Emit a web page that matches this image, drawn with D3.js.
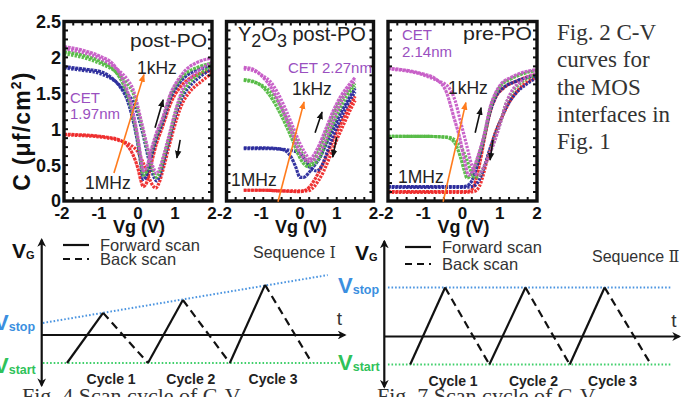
<!DOCTYPE html>
<html><head><meta charset="utf-8">
<script src="https://cdn.jsdelivr.net/npm/d3@7"></script>
<style>
html,body{margin:0;padding:0;background:#fff;overflow:hidden}
svg{display:block;font-family:Arial,"Liberation Sans",sans-serif}
</style></head><body>
<svg id="c" width="697" height="397"></svg>
<script>
// ---------------- DATA ----------------
const xTicks = [-2, -1, 0, 1, 2];
const xTickLabels = ["-2", "-1", "0", "1", "2"];
const yTicks = [0, 0.5, 1, 1.5, 2, 2.5];
const yTickLabels = ["0", "0.5", "1", "1.5", "2", "2.5"];
const panelTitles = ["post-PO", "Y2O3 post-PO", "pre-PO"];
const cetLabels = [["CET", "1.97nm"], ["CET 2.27nm"], ["CET", "2.14nm"]];
const freqLabels = ["1kHz", "1MHz"];
const seriesNames = ["1MHz", "100kHz", "10kHz", "1kHz"]; // red, blue, green, pink

// Panel 1: post-PO  (each series: branch A and branch B of hysteresis loop)
const postPO_red_A   = [[-2,0.93],[-1.5,0.92],[-1,0.9],[-0.5,0.85],[-0.3,0.78],[-0.15,0.66],[0,0.45],[0.08,0.28],[0.14,0.2],[0.22,0.24],[0.35,0.5],[0.5,0.8],[0.64,1.0],[0.9,1.38],[1.1,1.56],[1.3,1.67],[1.6,1.76],[2,1.82]];
const postPO_red_B   = [[-2,0.92],[-1.5,0.91],[-1,0.89],[-0.5,0.84],[-0.2,0.78],[0,0.68],[0.15,0.52],[0.3,0.32],[0.42,0.2],[0.48,0.18],[0.56,0.24],[0.7,0.48],[0.85,0.78],[1.05,1.15],[1.2,1.36],[1.4,1.52],[1.7,1.66],[2,1.78]];
const postPO_blue_A  = [[-2,1.87],[-1.5,1.84],[-1,1.8],[-0.7,1.71],[-0.5,1.6],[-0.3,1.42],[-0.17,1.2],[0,0.78],[0.08,0.5],[0.14,0.3],[0.22,0.34],[0.35,0.6],[0.5,0.88],[0.64,1.06],[0.9,1.46],[1.1,1.63],[1.3,1.74],[1.6,1.82],[2,1.88]];
const postPO_blue_B  = [[-2,1.85],[-1.5,1.82],[-1,1.77],[-0.6,1.66],[-0.3,1.5],[-0.13,1.38],[0.1,1.0],[0.32,0.52],[0.45,0.31],[0.5,0.28],[0.58,0.34],[0.7,0.56],[0.82,0.8],[1.05,1.25],[1.2,1.45],[1.4,1.6],[1.7,1.74],[2,1.84]];
const postPO_green_A = [[-2,2.08],[-1.5,2.03],[-1,1.94],[-0.7,1.85],[-0.5,1.72],[-0.3,1.5],[-0.17,1.27],[0,0.83],[0.08,0.55],[0.14,0.36],[0.22,0.4],[0.35,0.66],[0.5,0.92],[0.64,1.1],[0.9,1.5],[1.1,1.67],[1.3,1.78],[1.6,1.86],[2,1.92]];
const postPO_green_B = [[-2,2.05],[-1.5,2.0],[-1,1.91],[-0.6,1.8],[-0.3,1.64],[-0.13,1.5],[0.1,1.05],[0.32,0.58],[0.45,0.37],[0.5,0.33],[0.58,0.4],[0.7,0.62],[0.82,0.85],[1.05,1.3],[1.2,1.5],[1.4,1.65],[1.7,1.78],[2,1.88]];
const postPO_pink_A  = [[-2,2.15],[-1.5,2.1],[-1,2.01],[-0.7,1.92],[-0.5,1.78],[-0.3,1.55],[-0.17,1.32],[0,0.87],[0.08,0.6],[0.14,0.42],[0.22,0.45],[0.35,0.7],[0.5,0.95],[0.64,1.12],[0.9,1.52],[1.1,1.7],[1.3,1.83],[1.6,1.93],[2,1.99]];
const postPO_pink_B  = [[-2,2.12],[-1.5,2.07],[-1,1.98],[-0.6,1.85],[-0.3,1.7],[-0.13,1.55],[0.1,1.09],[0.32,0.62],[0.45,0.42],[0.5,0.38],[0.58,0.45],[0.7,0.65],[0.82,0.88],[1.05,1.32],[1.2,1.55],[1.4,1.7],[1.7,1.84],[2,1.93]];

// Panel 2: Y2O3 post-PO
const y2o3_red_A   = [[-1.53,0.15],[-1.0,0.15],[-0.5,0.14],[0.0,0.13],[0.15,0.15],[0.27,0.2],[0.4,0.3],[0.54,0.43],[0.7,0.6],[0.9,0.85],[1.1,1.07],[1.35,1.32],[1.5,1.46]];
const y2o3_red_B   = [[-1.53,0.15],[-1.0,0.15],[-0.5,0.14],[0.0,0.14],[0.2,0.14],[0.35,0.18],[0.5,0.28],[0.65,0.42],[0.8,0.6],[1.0,0.85],[1.2,1.08],[1.4,1.3],[1.5,1.4]];
const y2o3_blue_A  = [[-1.53,0.74],[-1.0,0.74],[-0.6,0.73],[-0.4,0.7],[-0.25,0.62],[-0.12,0.48],[0.0,0.33],[0.1,0.33],[0.25,0.4],[0.4,0.5],[0.54,0.6],[0.7,0.78],[0.9,1.0],[1.1,1.22],[1.3,1.4],[1.5,1.57]];
const y2o3_blue_B  = [[-1.53,0.73],[-1.0,0.73],[-0.5,0.72],[-0.2,0.7],[0.0,0.66],[0.15,0.56],[0.3,0.45],[0.45,0.42],[0.6,0.5],[0.75,0.7],[0.9,0.9],[1.1,1.14],[1.3,1.35],[1.5,1.52]];
const y2o3_green_A = [[-1.53,1.69],[-1.3,1.67],[-1.0,1.58],[-0.81,1.46],[-0.6,1.28],[-0.36,1.03],[-0.2,0.84],[-0.05,0.65],[0.1,0.52],[0.22,0.48],[0.35,0.55],[0.54,0.74],[0.7,0.95],[0.9,1.2],[1.1,1.4],[1.26,1.51],[1.5,1.64]];
const y2o3_green_B = [[-1.53,1.68],[-1.3,1.66],[-1.0,1.6],[-0.8,1.52],[-0.6,1.38],[-0.36,1.14],[-0.15,0.9],[0.0,0.72],[0.15,0.58],[0.3,0.5],[0.4,0.52],[0.55,0.62],[0.7,0.8],[0.9,1.07],[1.1,1.3],[1.3,1.48],[1.5,1.6]];
const y2o3_pink_A  = [[-1.53,1.86],[-1.3,1.84],[-1.0,1.72],[-0.81,1.6],[-0.6,1.4],[-0.36,1.13],[-0.2,0.92],[-0.05,0.72],[0.1,0.6],[0.22,0.55],[0.35,0.62],[0.54,0.8],[0.7,1.0],[0.9,1.25],[1.1,1.45],[1.26,1.57],[1.5,1.72]];
const y2o3_pink_B  = [[-1.53,1.84],[-1.3,1.82],[-1.0,1.74],[-0.8,1.66],[-0.6,1.5],[-0.36,1.24],[-0.15,0.98],[0.0,0.8],[0.15,0.66],[0.3,0.56],[0.4,0.58],[0.55,0.68],[0.7,0.85],[0.9,1.12],[1.1,1.36],[1.3,1.55],[1.5,1.68]];

// Panel 3: pre-PO
const prePO_red_A   = [[-2,0.13],[-1,0.13],[0,0.13],[0.2,0.14],[0.3,0.2],[0.4,0.38],[0.5,0.62],[0.6,0.9],[0.75,1.25],[0.9,1.45],[1.1,1.57],[1.5,1.68],[2,1.77]];
const prePO_red_B   = [[-2,0.12],[-1,0.12],[0,0.12],[0.3,0.13],[0.45,0.2],[0.55,0.35],[0.65,0.55],[0.76,0.75],[0.88,0.95],[1.02,1.12],[1.2,1.32],[1.5,1.55],[2,1.72]];
const prePO_blue_A  = [[-2,0.2],[-1,0.2],[0,0.2],[0.15,0.22],[0.25,0.28],[0.35,0.42],[0.45,0.6],[0.57,0.86],[0.75,1.26],[0.9,1.46],[1.1,1.58],[1.4,1.66],[2,1.75]];
const prePO_blue_B  = [[-2,0.19],[-1,0.19],[0,0.19],[0.25,0.2],[0.4,0.25],[0.5,0.35],[0.6,0.5],[0.72,0.7],[0.84,0.88],[1.02,1.12],[1.2,1.33],[1.4,1.48],[1.7,1.62],[2,1.72]];
const prePO_green_A = [[-2,0.9],[-1,0.9],[-0.5,0.89],[-0.3,0.86],[-0.15,0.75],[-0.06,0.62],[0.05,0.42],[0.12,0.32],[0.22,0.36],[0.4,0.58],[0.57,0.88],[0.75,1.3],[0.9,1.5],[1.02,1.6],[1.3,1.7],[1.56,1.76],[2,1.82]];
const prePO_green_B = [[-2,0.9],[-1,0.9],[-0.4,0.89],[-0.2,0.85],[-0.05,0.76],[0.1,0.6],[0.22,0.42],[0.32,0.33],[0.42,0.34],[0.55,0.45],[0.7,0.62],[0.84,0.82],[1.02,1.1],[1.15,1.33],[1.29,1.48],[1.6,1.66],[2,1.76]];
const prePO_pink_A  = [[-2,1.85],[-1.5,1.82],[-1.14,1.78],[-0.69,1.69],[-0.42,1.5],[-0.24,1.18],[-0.06,0.85],[0.06,0.55],[0.16,0.36],[0.25,0.4],[0.4,0.6],[0.57,0.9],[0.75,1.32],[0.9,1.52],[1.02,1.62],[1.3,1.72],[1.56,1.78],[2,1.83]];
const prePO_pink_B  = [[-2,1.84],[-1.5,1.81],[-1.14,1.77],[-0.69,1.68],[-0.4,1.6],[-0.2,1.4],[-0.05,1.1],[0.1,0.8],[0.25,0.5],[0.35,0.38],[0.43,0.36],[0.55,0.45],[0.7,0.62],[0.84,0.8],[1.02,1.09],[1.15,1.33],[1.29,1.5],[1.6,1.68],[2,1.78]];

// Annotation arrows in data units [V1,C1,V2,C2]
const orangeArrows = [[-0.65,0.39,0.16,1.76],[-0.6,-0.01,0.11,1.38],[-0.52,-0.01,0.09,1.37]];
const upArrows     = [[0.46,1.02,0.68,1.41],[0.41,0.95,0.6,1.24],[0.34,0.95,0.5,1.3]];
const downArrows   = [[1.14,0.85,1.05,0.6],[1.0,0.89,0.89,0.61],[0.82,0.85,0.74,0.57]];

// Scan sequences (t, V_G in arbitrary units; V_start = -1)
const seq1T = [0.84, 2.04, 3.53, 4.69, 6.25, 7.42, 8.98];
const seq1V = [-1, 0.79, -1, 1.25, -1, 1.79, -1];
const seq1Stop = [[0.04, 0.43], [9.5, 2.14]];
const seq2T = [0.86, 2.02, 3.49, 4.69, 6.16, 7.32, 8.86];
const seq2V = [-1, 1.75, -1, 1.75, -1, 1.75, -1];
const seq2Stop = [[0.12, 1.75], [9.53, 1.75]];
const cycleLabels = ["Cycle 1", "Cycle 2", "Cycle 3"];
const legendLabels = ["Forward scan", "Back scan"];
const captionLines = ["Fig. 2 C-V", "curves for", "the MOS", "interfaces in", "Fig. 1"];

// ---------------- DRAW ----------------
const SERIF = "'Liberation Serif','Times New Roman',serif";
const svg = d3.select("#c");
const colors = {red:"#ee2a2a", blue:"#2a2a9c", green:"#55bb44", pink:"#c65cc6"};
const purple = "#9a50bf", orange = "#ff7b1c";

const defs = svg.append("defs");
function mk(id, col){
  defs.append("marker").attr("id",id).attr("viewBox","0 0 10 10").attr("refX",9).attr("refY",5)
    .attr("markerWidth",5).attr("markerHeight",5).attr("orient","auto")
    .append("path").attr("d","M0,1 L10,5 L0,9 Z").attr("fill",col);
}
mk("aBlack","#111"); mk("aOrange",orange);
defs.append("marker").attr("id","axArrow").attr("viewBox","0 0 10 10").attr("refX",8).attr("refY",5)
  .attr("markerWidth",4).attr("markerHeight",4).attr("orient","auto-start-reverse")
  .append("path").attr("d","M0,0 L10,5 L0,10 L3,5 Z").attr("fill","#111");

const panels = [
  {x0:64, x1:212, data:{red:[postPO_red_A,postPO_red_B],blue:[postPO_blue_A,postPO_blue_B],green:[postPO_green_A,postPO_green_B],pink:[postPO_pink_A,postPO_pink_B]}},
  {x0:226.5, x1:373.5, data:{red:[y2o3_red_A,y2o3_red_B],blue:[y2o3_blue_A,y2o3_blue_B],green:[y2o3_green_A,y2o3_green_B],pink:[y2o3_pink_A,y2o3_pink_B]}},
  {x0:388, x1:537, data:{red:[prePO_red_A,prePO_red_B],blue:[prePO_blue_A,prePO_blue_B],green:[prePO_green_A,prePO_green_B],pink:[prePO_pink_A,prePO_pink_B]}}
];
const yTop = 21.5, yBot = 201;

panels.forEach((p, i) => {
  const x = d3.scaleLinear().domain([-2, 2]).range([p.x0, p.x1]);
  const y = d3.scaleLinear().domain([0, 2.5]).range([yBot, yTop]);
  const g = svg.append("g");
  const cid = "clip"+i;
  defs.append("clipPath").attr("id",cid).append("rect")
    .attr("x",p.x0+1).attr("y",yTop+1).attr("width",p.x1-p.x0-2).attr("height",yBot-yTop-2);
  const cg = g.append("g").attr("clip-path",`url(#${cid})`);
  const line = d3.line().x(d=>x(d[0])).y(d=>y(d[1])).curve(d3.curveMonotoneX);
  ["red","blue","green","pink"].forEach(c => {
    p.data[c].forEach((arr, k) => {
      cg.append("path").attr("d", line(arr)).attr("fill","none")
        .attr("stroke", colors[c]).attr("stroke-width", 3.2)
        .attr("stroke-dasharray", k ? "2.4,1.2" : "3,0.8").attr("opacity",0.95);
    });
  });
  g.append("rect").attr("x",p.x0).attr("y",yTop).attr("width",p.x1-p.x0).attr("height",yBot-yTop)
    .attr("fill","none").attr("stroke","#111").attr("stroke-width",3.4);
  const xm = d3.range(-2, 2.001, 0.25);
  const ym = d3.range(0, 2.501, 0.125);
  xm.forEach(v => {
    g.append("line").attr("x1",x(v)).attr("x2",x(v)).attr("y1",yBot).attr("y2",yBot-4).attr("stroke","#111").attr("stroke-width",2);
    g.append("line").attr("x1",x(v)).attr("x2",x(v)).attr("y1",yTop).attr("y2",yTop+4).attr("stroke","#111").attr("stroke-width",2);
  });
  ym.forEach(v => {
    g.append("line").attr("x1",p.x0).attr("x2",p.x0+4).attr("y1",y(v)).attr("y2",y(v)).attr("stroke","#111").attr("stroke-width",2);
    g.append("line").attr("x1",p.x1).attr("x2",p.x1-4).attr("y1",y(v)).attr("y2",y(v)).attr("stroke","#111").attr("stroke-width",2);
  });
  xTicks.forEach((v, j) => {
    g.append("text").attr("x", x(v) + (v<0 ? -2 : 0)).attr("y", 219).attr("text-anchor","middle")
      .attr("font-size",17).attr("font-weight","bold").attr("fill","#111").text(xTickLabels[j]);
  });
  g.append("text").attr("x",(p.x0+p.x1)/2 + 1).attr("y",233).attr("text-anchor","middle")
    .attr("font-size",18).attr("font-weight","bold").attr("fill","#111").text("Vg (V)");
  if (i === 0) {
    yTicks.forEach((v, j) => {
      g.append("text").attr("x", 61).attr("y", y(v)).attr("dy","0.36em").attr("text-anchor","end")
        .attr("font-size",18).attr("font-weight","bold").attr("fill","#111").text(yTickLabels[j]);
    });
    const yl = g.append("text").attr("transform","translate(30,131) rotate(-90)").attr("text-anchor","middle")
      .attr("font-size",23).attr("font-weight","bold").attr("fill","#111").style("letter-spacing","1.2px");
    yl.append("tspan").text("C (\u03bcf/cm");
    yl.append("tspan").attr("font-size",14).attr("dy",-9).text("2");
    yl.append("tspan").attr("dy",9).text(")");
  }
  const oa = orangeArrows[i];
  g.append("line").attr("x1",x(oa[0])).attr("y1",y(oa[1])).attr("x2",x(oa[2])).attr("y2",y(oa[3]))
    .attr("stroke",orange).attr("stroke-width",1.6).attr("marker-end","url(#aOrange)");
  [upArrows[i], downArrows[i]].forEach(a => {
    g.append("line").attr("x1",x(a[0])).attr("y1",y(a[1])).attr("x2",x(a[2])).attr("y2",y(a[3]))
      .attr("stroke","#111").attr("stroke-width",1.6).attr("marker-end","url(#aBlack)");
  });
});

const T = (x, y, s, o={}) => {
  const t = svg.append("text").attr("x",x).attr("y",y).text(s)
    .attr("font-size",o.fs||18).attr("fill",o.fill||"#222");
  if (o.fw) t.attr("font-weight",o.fw);
  if (o.anchor) t.attr("text-anchor",o.anchor);
  if (o.ff) t.style("font-family",o.ff);
  if (o.tl) t.attr("textLength",o.tl).attr("lengthAdjust","spacingAndGlyphs");
  return t;
};
T(130, 47, panelTitles[0], {fs:19, tl:77});
{
  const t = svg.append("text").attr("x",238).attr("y",41).attr("font-size",20).attr("fill","#222");
  t.append("tspan").text("Y");
  t.append("tspan").attr("font-size",18).attr("dy",6).text("2");
  t.append("tspan").attr("dy",-6).text("O");
  t.append("tspan").attr("font-size",18).attr("dy",6).text("3");
  t.append("tspan").attr("dy",-6).text(" post-PO");
}
T(463, 40, panelTitles[2], {fs:19, tl:69});
T(137, 74, freqLabels[0], {fs:17.5});
T(292, 95, freqLabels[0], {fs:17.5});
T(448, 94, freqLabels[0], {fs:17.5});
T(85, 189, freqLabels[1], {fs:17.5});
T(231, 186, freqLabels[1], {fs:17.5});
T(398, 183, freqLabels[1], {fs:17.5});
T(70, 103, cetLabels[0][0], {fs:15, fill:purple});
T(70, 119, cetLabels[0][1], {fs:15, fill:purple});
T(288, 73, cetLabels[1][0], {fs:15, fill:purple});
T(402, 40, cetLabels[2][0], {fs:15, fill:purple});
T(402, 57, cetLabels[2][1], {fs:15, fill:purple});

captionLines.forEach((s, j) => {
  T(557, 40 + j*27.3, s, {fs:23, ff:SERIF, fill:"#333"});
});

function diagram(opt){
  const x = d3.scaleLinear().domain([0, 10]).range([opt.ax, opt.ax + 301]);
  const y = d3.scaleLinear().domain([0, -1]).range([opt.ay, opt.ay + 28]);
  const g = svg.append("g");
  g.append("line").attr("x1",x(opt.stop[0][0])).attr("y1",y(opt.stop[0][1])).attr("x2",x(opt.stop[1][0])).attr("y2",y(opt.stop[1][1]))
    .attr("stroke","#4a94e0").attr("stroke-width",2).attr("stroke-dasharray","1.6,2");
  g.append("line").attr("x1",x(opt.startRange[0])).attr("x2",x(opt.startRange[1])).attr("y1",y(-1)).attr("y2",y(-1))
    .attr("stroke","#3fcf6a").attr("stroke-width",2).attr("stroke-dasharray","1.6,2");
  g.append("line").attr("x1",x(0)).attr("x2",x(0)).attr("y1",y(-1.8)).attr("y2",y(3.4))
    .attr("stroke","#111").attr("stroke-width",2.2).attr("marker-start","url(#axArrow)").attr("marker-end","url(#axArrow)");
  g.append("line").attr("x1",x(0)).attr("x2",x(opt.tEnd)).attr("y1",y(0)).attr("y2",y(0))
    .attr("stroke","#111").attr("stroke-width",2.2).attr("marker-end","url(#axArrow)");
  for (let i = 0; i < opt.T.length - 1; i++) {
    g.append("line").attr("x1",x(opt.T[i])).attr("y1",y(opt.V[i])).attr("x2",x(opt.T[i+1])).attr("y2",y(opt.V[i+1]))
      .attr("stroke","#111").attr("stroke-width",2.2)
      .attr("stroke-dasharray", i % 2 ? "8,5" : null);
  }
  cycleLabels.forEach((s, k) => {
    T(x(opt.T[2*k+1]) + opt.cycOff, opt.ay + 49, s, {fs:14, fw:"bold", anchor:"middle", fill:"#222"});
  });
  g.append("line").attr("x1",opt.lx).attr("x2",opt.lx+26).attr("y1",opt.ly).attr("y2",opt.ly).attr("stroke","#111").attr("stroke-width",2.2);
  g.append("line").attr("x1",opt.lx).attr("x2",opt.lx+26).attr("y1",opt.ly+opt.lgap).attr("y2",opt.ly+opt.lgap).attr("stroke","#111").attr("stroke-width",2.2).attr("stroke-dasharray","7,5");
  T(opt.lx+37, opt.ly+6, legendLabels[0], {fs:16.5, fill:"#333"});
  T(opt.lx+37, opt.ly+opt.lgap+6, legendLabels[1], {fs:16.5, fill:"#333"});
  const sq = svg.append("text").attr("x",opt.seqX).attr("y",opt.seqY).attr("font-size",16).attr("fill","#333");
  sq.append("tspan").text("Sequence ");
  sq.append("tspan").style("font-family","'DejaVu Serif','Liberation Serif',serif").attr("font-size",16).text(opt.num);
  T(x(opt.tEnd) - 8, opt.ay - 10, "t", {fs:19, fill:"#333"});
  const vg = svg.append("text").attr("x", opt.vgx).attr("y", opt.vgy).attr("font-weight","bold").attr("fill","#111");
  vg.append("tspan").attr("font-size",21).text("V");
  vg.append("tspan").attr("font-size",11).attr("dy",1).text("G");
  const vs = svg.append("text").attr("x", opt.vsx).attr("y", opt.vsy).attr("font-weight","bold").attr("fill","#3b8fe0");
  vs.append("tspan").attr("font-size",22).text("V");
  vs.append("tspan").attr("font-size",12.5).attr("dy",1).text("stop");
  const vt = svg.append("text").attr("x", opt.vtx).attr("y", opt.vty).attr("font-weight","bold").attr("fill","#2fc25a");
  vt.append("tspan").attr("font-size",22).text("V");
  vt.append("tspan").attr("font-size",12.5).attr("dy",1).text("start");
  T(opt.capX, 403, opt.cap, {fs:22, ff:SERIF, fill:"#333"});
}
diagram({ax:41.7, ay:335, T:seq1T, V:seq1V, stop:seq1Stop, startRange:[0.04,9.9], tEnd:10.07,
  lx:63, ly:245, lgap:14, num:"\u2160", seqX:253, seqY:258, vgx:12, vgy:258,
  vsx:-6, vsy:330, vtx:-6, vty:373, cycOff:8, cap:"Fig. 4 Scan cycle of C-V", capX:22});
diagram({ax:384.3, ay:336.5, T:seq2T, V:seq2V, stop:seq2Stop, startRange:[0.12,9.53], tEnd:9.8,
  lx:405, ly:247, lgap:17, num:"\u2161", seqX:592, seqY:262, vgx:355, vgy:260,
  vsx:338, vsy:293, vtx:338, vty:370, cycOff:8, cap:"Fig. 7 Scan cycle of C-V", capX:377});
</script>
</body></html>
